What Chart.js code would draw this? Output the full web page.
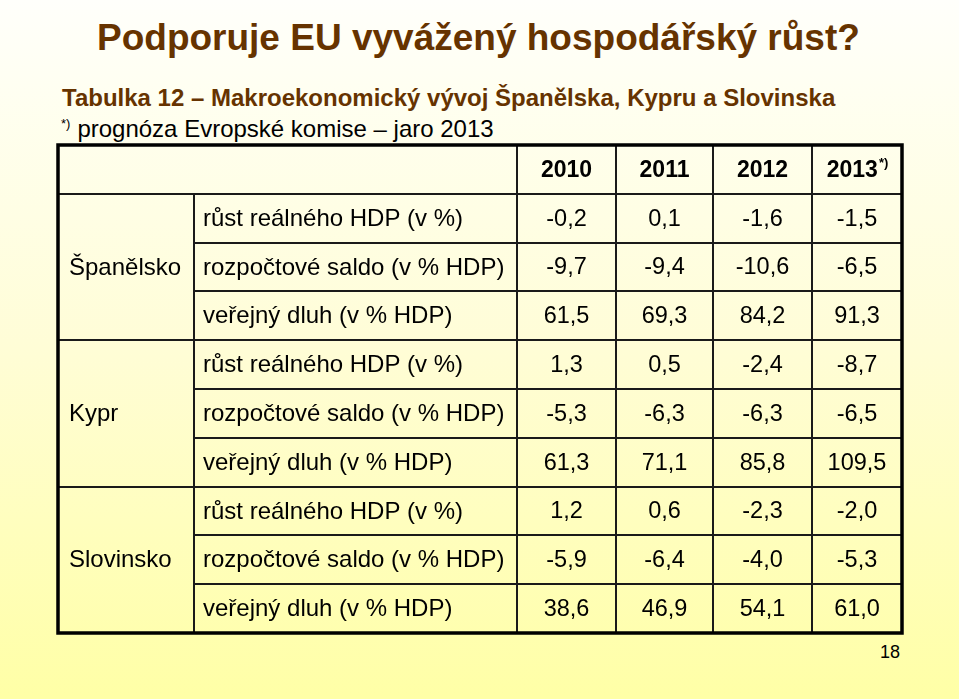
<!DOCTYPE html>
<html lang="cs">
<head>
<meta charset="utf-8">
<title>Podporuje EU vyvážený hospodářský růst?</title>
<script src="https://cdn.jsdelivr.net/npm/chart.js@4.4.1/dist/chart.umd.min.js"></script>
<style>
    html, body {
        margin: 0;
        padding: 0;
    }
    body {
        width: 959px;
        height: 699px;
        position: relative;
        overflow: hidden;
        font-family: "Liberation Sans", Arial, sans-serif;
        background: linear-gradient(to bottom, #fffffb 0%, #fffff2 12%, #fffdd6 50%, #ffffa6 100%);
    }
    .txt {
        position: absolute;
        line-height: 1;
        white-space: nowrap;
    }
    #title {
        left: 97px;
        top: 19px;
        font-size: 37px;
        font-weight: bold;
        color: #663300;
    }
    #subtitle {
        left: 62px;
        top: 86px;
        font-size: 24px;
        font-weight: bold;
        color: #663300;
    }
    #note {
        left: 61px;
        top: 117px;
        font-size: 24px;
        color: #000;
    }
    #note sup {
        font-size: 13px;
        vertical-align: 9px;
        margin-right: 7px;
    }
    #page {
        right: 59px;
        top: 643px;
        font-size: 18px;
        color: #000;
    }
    #tableChart {
        position: absolute;
        left: 0;
        top: 0;
    }
</style>
</head>
<body>
<div class="txt" id="title">Podporuje EU vyvážený hospodářský růst?</div>
<div class="txt" id="subtitle">Tabulka 12 – Makroekonomický vývoj Španělska, Kypru a Slovinska</div>
<div class="txt" id="note"><sup>*)</sup>prognóza Evropské komise – jaro 2013</div>
<div class="txt" id="page">18</div>
<canvas id="tableChart" width="959" height="699"></canvas>

<script>
// --- data ---
var COUNTRIES = ['Španělsko', 'Kypr', 'Slovinsko'];
var INDICATORS = ['růst reálného HDP (v %)', 'rozpočtové saldo (v % HDP)', 'veřejný dluh (v % HDP)'];
var YEARS = ['2010', '2011', '2012', '2013'];
var YEAR_NOTES = ['', '', '', '*)'];

// rows: Španělsko x3, Kypr x3, Slovinsko x3
var V2010 = [-0.2, -9.7, 61.5, 1.3, -5.3, 61.3, 1.2, -5.9, 38.6];
var V2011 = [0.1, -9.4, 69.3, 0.5, -6.3, 71.1, 0.6, -6.4, 46.9];
var V2012 = [-1.6, -10.6, 84.2, -2.4, -6.3, 85.8, -2.3, -4.0, 54.1];
var V2013 = [-1.5, -6.5, 91.3, -8.7, -6.5, 109.5, -2.0, -5.3, 61.0];

// --- layout (table units along x, rows along y) ---
var COL_EDGES = [0, 136, 459, 558, 655, 754, 844];
var COUNTRY_PAD = 11;
var INDICATOR_PAD = 9;
var FONT = '"Liberation Sans", Arial, sans-serif';

(function () {
    var series = [V2010, V2011, V2012, V2013];
    var nRows = COUNTRIES.length * INDICATORS.length;

    function fmt(v) {
        return v.toFixed(1).replace('.', ',');
    }

    function colCenter(c) {
        return (COL_EDGES[c] + COL_EDGES[c + 1]) / 2;
    }

    var datasets = [];

    // country labels, centred on their group of rows
    datasets.push({
        kind: 'country',
        data: COUNTRIES.map(function (name, g) {
            return { x: COL_EDGES[0] + COUNTRY_PAD, y: 1 + g * INDICATORS.length + (INDICATORS.length - 1) / 2, text: name };
        })
    });

    // indicator labels
    var indData = [];
    for (var r = 0; r < nRows; r++) {
        indData.push({ x: COL_EDGES[1] + INDICATOR_PAD, y: r + 1, text: INDICATORS[r % INDICATORS.length] });
    }
    datasets.push({ kind: 'indicator', data: indData });

    // year headers
    datasets.push({
        kind: 'year',
        data: YEARS.map(function (y, i) {
            return { x: colCenter(i + 2), y: 0, text: y, note: YEAR_NOTES[i] };
        })
    });

    // values, one dataset per year column
    series.forEach(function (vals, i) {
        datasets.push({
            kind: 'value',
            data: vals.map(function (v, r) {
                return { x: colCenter(i + 2), y: r + 1, text: fmt(v) };
            })
        });
    });

    datasets.forEach(function (ds) {
        ds.pointRadius = 0;
        ds.pointHoverRadius = 0;
        ds.clip = false;
    });

    var tablePlugin = {
        id: 'tableGrid',
        beforeDatasetsDraw: function (chart) {
            var ctx = chart.ctx;
            var xs = chart.scales.x;
            var ys = chart.scales.y;
            var top = ys.getPixelForValue(-0.5);
            var bottom = ys.getPixelForValue(nRows + 0.5);
            var left = xs.getPixelForValue(COL_EDGES[0]);
            var right = xs.getPixelForValue(COL_EDGES[COL_EDGES.length - 1]);

            ctx.save();
            ctx.strokeStyle = '#1a1a1a';
            ctx.lineWidth = 2;
            ctx.beginPath();
            // horizontal lines between rows
            for (var k = 0; k < nRows; k++) {
                var yy = Math.round(ys.getPixelForValue(k + 0.5));
                var groupEdge = (k % INDICATORS.length === 0);
                ctx.moveTo(groupEdge ? left : xs.getPixelForValue(COL_EDGES[1]), yy);
                ctx.lineTo(right, yy);
            }
            // vertical column lines
            for (var c = 1; c < COL_EDGES.length - 1; c++) {
                var xx = Math.round(xs.getPixelForValue(COL_EDGES[c]));
                ctx.moveTo(xx, c === 1 ? ys.getPixelForValue(0.5) : top);
                ctx.lineTo(xx, bottom);
            }
            ctx.stroke();

            // outer frame
            ctx.lineWidth = 3.5;
            ctx.strokeStyle = '#000';
            ctx.strokeRect(left, top, right - left, bottom - top);
            ctx.restore();
        },
        afterDatasetsDraw: function (chart) {
            var ctx = chart.ctx;
            ctx.save();
            ctx.fillStyle = '#000';
            ctx.textBaseline = 'middle';
            chart.data.datasets.forEach(function (ds, di) {
                var meta = chart.getDatasetMeta(di);
                meta.data.forEach(function (pt, i) {
                    var item = ds.data[i];
                    if (ds.kind === 'year') {
                        ctx.font = 'bold 23px ' + FONT;
                        var w = ctx.measureText(item.text).width;
                        var nw = 0;
                        if (item.note) {
                            ctx.font = 'bold 13px ' + FONT;
                            nw = ctx.measureText(item.note).width;
                        }
                        ctx.font = 'bold 23px ' + FONT;
                        ctx.textAlign = 'left';
                        var x0 = pt.x - (w + nw) / 2;
                        ctx.fillText(item.text, x0, pt.y + 1);
                        if (item.note) {
                            ctx.font = 'bold 13px ' + FONT;
                            ctx.fillText(item.note, x0 + w + 1, pt.y - 6);
                        }
                    } else if (ds.kind === 'value') {
                        ctx.font = '23.5px ' + FONT;
                        ctx.textAlign = 'center';
                        ctx.fillText(item.text, pt.x, pt.y + 1);
                    } else {
                        ctx.font = '24px ' + FONT;
                        ctx.textAlign = 'left';
                        ctx.fillText(item.text, pt.x, pt.y + 1);
                    }
                });
            });
            ctx.restore();
        }
    };

    new Chart(document.getElementById('tableChart'), {
        type: 'scatter',
        data: { datasets: datasets },
        options: {
            responsive: false,
            animation: false,
            devicePixelRatio: 1,
            events: [],
            layout: { padding: { left: 58, right: 57, top: 145, bottom: 66 } },
            plugins: {
                legend: { display: false },
                tooltip: { enabled: false },
                title: { display: false }
            },
            scales: {
                x: { type: 'linear', display: false, min: COL_EDGES[0], max: COL_EDGES[COL_EDGES.length - 1] },
                y: { type: 'linear', display: false, min: -0.5, max: nRows + 0.5, reverse: true }
            }
        },
        plugins: [tablePlugin]
    });
})();
</script>
</body>
</html>
